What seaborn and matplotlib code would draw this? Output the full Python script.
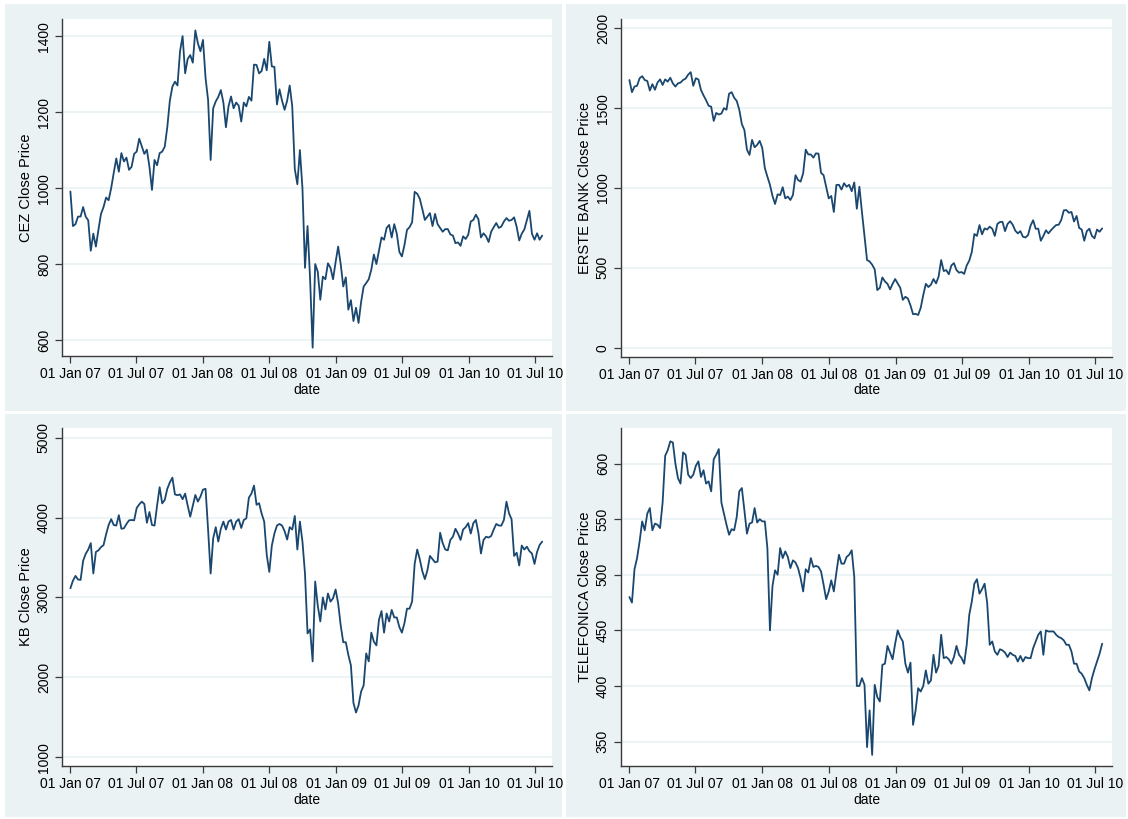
import matplotlib
matplotlib.use("Agg")
import matplotlib.pyplot as plt
from matplotlib.patches import Rectangle
import numpy as np
import pandas as pd
import seaborn as sns

# Weekly closing prices, first trading week of 2007 onward
dates = pd.date_range("2007-01-02", periods=186, freq="7D")

cez = [
    991, 900, 905, 925, 925, 950, 925, 915, 835, 880,
    846, 890, 932, 950, 975, 968, 1000, 1040, 1078, 1043,
    1092, 1070, 1080, 1048, 1056, 1090, 1096, 1130, 1110, 1090,
    1101, 1056, 995, 1074, 1060, 1092, 1096, 1109, 1160, 1230,
    1267, 1280, 1270, 1360, 1400, 1302, 1340, 1350, 1330, 1415,
    1381, 1360, 1390, 1290, 1232, 1074, 1210, 1228, 1240, 1258,
    1225, 1160, 1215, 1241, 1210, 1225, 1217, 1175, 1225, 1215,
    1240, 1230, 1325, 1324, 1302, 1308, 1340, 1310, 1385, 1320,
    1319, 1220, 1260, 1230, 1206, 1230, 1270, 1215, 1050, 1010,
    1100, 1000, 790, 900, 760, 580, 800, 780, 706, 767,
    760, 802, 790, 760, 805, 846, 800, 741, 765, 680,
    705, 650, 685, 645, 700, 741, 750, 760, 785, 825,
    800, 835, 870, 864, 895, 903, 870, 905, 880, 832,
    820, 850, 890, 897, 910, 990, 985, 972, 945, 916,
    925, 934, 900, 932, 905, 895, 885, 892, 892, 878,
    875, 855, 857, 848, 873, 866, 877, 912, 916, 930,
    918, 870, 881, 873, 858, 885, 897, 908, 895, 899,
    912, 921, 914, 916, 923, 898, 862, 880, 891, 916,
    940, 880, 864, 881, 864, 875,
]

erste = [
    1676, 1600, 1635, 1640, 1687, 1700, 1676, 1670, 1610, 1650,
    1615, 1660, 1680, 1645, 1680, 1666, 1690, 1655, 1635, 1655,
    1660, 1676, 1685, 1710, 1725, 1640, 1687, 1680, 1614, 1580,
    1550, 1515, 1509, 1420, 1470, 1460, 1466, 1500, 1490, 1590,
    1600, 1565, 1545, 1490, 1400, 1363, 1240, 1207, 1301, 1255,
    1270, 1295, 1250, 1125, 1071, 1020, 950, 900, 960, 956,
    1005, 935, 946, 925, 956, 1080, 1050, 1040, 1092, 1240,
    1210, 1210, 1190, 1217, 1215, 1095, 1080, 1008, 935, 950,
    850, 1019, 1020, 990, 1030, 1008, 1020, 980, 1035, 870,
    1008, 850, 700, 549, 540, 520, 490, 361, 375, 440,
    415, 400, 365, 400, 430, 403, 375, 300, 319, 308,
    265, 210, 212, 205, 250, 330, 400, 380, 395, 430,
    403, 445, 549, 480, 486, 460, 515, 530, 486, 470,
    474, 462, 515, 545, 600, 712, 700, 768, 710, 747,
    740, 758, 745, 700, 775, 787, 788, 730, 775, 792,
    770, 733, 716, 730, 695, 690, 705, 765, 798, 745,
    745, 670, 700, 735, 716, 736, 753, 768, 770, 800,
    860, 862, 845, 850, 790, 825, 750, 740, 670, 730,
    745, 700, 685, 740, 726, 747,
]

kb = [
    3115, 3210, 3270, 3225, 3220, 3460, 3545, 3600, 3680, 3300,
    3570, 3590, 3630, 3655, 3790, 3907, 3980, 3907, 3900, 4030,
    3860, 3866, 3920, 3965, 3970, 3965, 4120, 4165, 4199, 4170,
    3935, 4070, 3907, 3900, 4150, 4380, 4178, 4220, 4360, 4440,
    4500, 4290, 4280, 4290, 4230, 4300, 4150, 4011, 4150, 4283,
    4200, 4262, 4350, 4360, 3850, 3300, 3740, 3880, 3700, 3860,
    3950, 3850, 3950, 3970, 3850, 3949, 3980, 3870, 3970, 3990,
    4250, 4300, 4400, 4160, 4180, 4050, 3950, 3532, 3320, 3650,
    3800, 3900, 3920, 3900, 3830, 3725, 3880, 3850, 4020, 3600,
    3950, 3700, 3300, 2550, 2600, 2200, 3200, 2900, 2700, 3000,
    2850, 3050, 2948, 2990, 3100, 2927, 2650, 2440, 2440, 2280,
    2150, 1680, 1560, 1650, 1822, 1900, 2300, 2200, 2560, 2448,
    2400, 2720, 2830, 2560, 2800, 2700, 2844, 2750, 2750, 2630,
    2560, 2680, 2860, 2860, 2950, 3420, 3600, 3480, 3330, 3230,
    3340, 3520, 3480, 3440, 3450, 3810, 3680, 3600, 3590, 3720,
    3760, 3860, 3800, 3720, 3850, 3880, 3930, 3800, 3930, 3970,
    3810, 3550, 3720, 3760, 3750, 3770, 3850, 3920, 3900, 3900,
    3970, 4199, 4053, 3980, 3520, 3560, 3400, 3650, 3600, 3636,
    3580, 3550, 3420, 3570, 3657, 3699,
]

telefonica = [
    480, 475, 505, 515, 530, 548, 540, 555, 560, 540,
    546, 545, 542, 565, 607, 612, 620, 619, 600, 587,
    582, 610, 608, 590, 587, 590, 598, 602, 588, 594,
    582, 584, 575, 604, 608, 613, 565, 555, 545, 536,
    541, 540, 552, 575, 578, 558, 537, 546, 547, 560,
    547, 550, 548, 548, 524, 450, 490, 504, 500, 524,
    515, 521, 516, 506, 513, 511, 506, 497, 485, 505,
    502, 515, 507, 508, 507, 503, 491, 478, 485, 495,
    485, 502, 518, 510, 510, 516, 518, 522, 498, 400,
    400, 407, 401, 345, 378, 338, 401, 390, 386, 419,
    420, 436, 430, 424, 438, 450, 444, 440, 420, 412,
    421, 365, 378, 398, 395, 400, 414, 402, 405, 428,
    412, 418, 446, 425, 426, 424, 420, 426, 436, 428,
    425, 420, 437, 464, 476, 492, 496, 483, 487, 492,
    475, 437, 440, 431, 428, 433, 432, 430, 426, 430,
    428, 427, 422, 427, 422, 426, 425, 425, 434, 440,
    446, 449, 428, 450, 449, 449, 449, 446, 444, 443,
    441, 437, 437, 431, 420, 420, 413, 411, 407, 401,
    396, 407, 415, 422, 429, 438,
]

y_titles = ["CEZ Close Price", "ERSTE BANK Close Price",
            "KB Close Price", "TELEFONICA Close Price"]
y_ticks = [
    [600, 800, 1000, 1200, 1400],
    [0, 500, 1000, 1500, 2000],
    [1000, 2000, 3000, 4000, 5000],
    [350, 400, 450, 500, 550, 600],
]
x_ticks = pd.to_datetime(["2007-01-01", "2007-07-01", "2008-01-01", "2008-07-01",
                          "2009-01-01", "2009-07-01", "2010-01-01", "2010-07-01"])

sns.set_theme(style="white")
plt.rcParams["font.family"] = ["Liberation Sans", "DejaVu Sans"]

W, H = 1128, 819
fig = plt.figure(figsize=(W / 100, H / 100), dpi=100, facecolor="white")

BG = "#EAF2F3"
LINE = "#1A476F"
AX = "#3a3a3a"

# graph regions (pixel boxes: x0, y0, x1, y1)
regions = [(5, 4, 562, 411), (566, 4, 1126, 411),
           (5, 414, 562, 817), (566, 414, 1126, 817)]
# plot regions
plots = [(62, 19, 552, 356), (621, 19, 1112, 357),
         (62, 428, 552, 766), (621, 428, 1112, 766)]
ylims = [(558, 1445), (-58, 2058), (891, 5121), (328, 632)]

for (x0, y0, x1, y1) in regions:
    fig.add_artist(Rectangle((x0 / W, 1 - y1 / H), (x1 - x0) / W, (y1 - y0) / H,
                             transform=fig.transFigure, facecolor=BG,
                             edgecolor="none", zorder=0))

series = [cez, erste, kb, telefonica]
x_lo = pd.Timestamp("2006-12-10")
x_hi = pd.Timestamp("2010-08-16")

for i in range(4):
    x0, y0, x1, y1 = plots[i]
    ax = fig.add_axes([x0 / W, 1 - y1 / H, (x1 - x0) / W, (y1 - y0) / H])
    ax.set_facecolor("white")
    df = pd.DataFrame({"date": dates, "price": series[i]})
    sns.lineplot(data=df, x="date", y="price", ax=ax, color=LINE, linewidth=1.3)

    ax.set_xlim(x_lo, x_hi)
    ax.set_ylim(*ylims[i])
    ax.set_yticks(y_ticks[i])
    ax.set_yticklabels([str(v) for v in y_ticks[i]], rotation=90, va="center")
    ax.set_xticks(x_ticks)
    ax.set_xticklabels([d.strftime("%d %b %y") for d in x_ticks])

    ax.yaxis.grid(True, color=BG, linewidth=1.2)
    ax.xaxis.grid(False)
    ax.set_axisbelow(True)

    for side in ("top", "right"):
        ax.spines[side].set_visible(False)
    for side in ("left", "bottom"):
        ax.spines[side].set_color(AX)
        ax.spines[side].set_linewidth(1.0)

    ax.tick_params(axis="both", direction="out", length=5, width=0.9,
                   color=AX, labelsize=10, labelcolor="black", pad=3)
    ax.tick_params(axis="x", bottom=True)
    ax.tick_params(axis="y", left=True)
    ax.set_xlabel("date", fontsize=10, color="black", labelpad=1)
    ax.set_ylabel(y_titles[i], fontsize=10.5, color="black", labelpad=3)

fig.savefig("out.png", dpi=100, facecolor="white")
